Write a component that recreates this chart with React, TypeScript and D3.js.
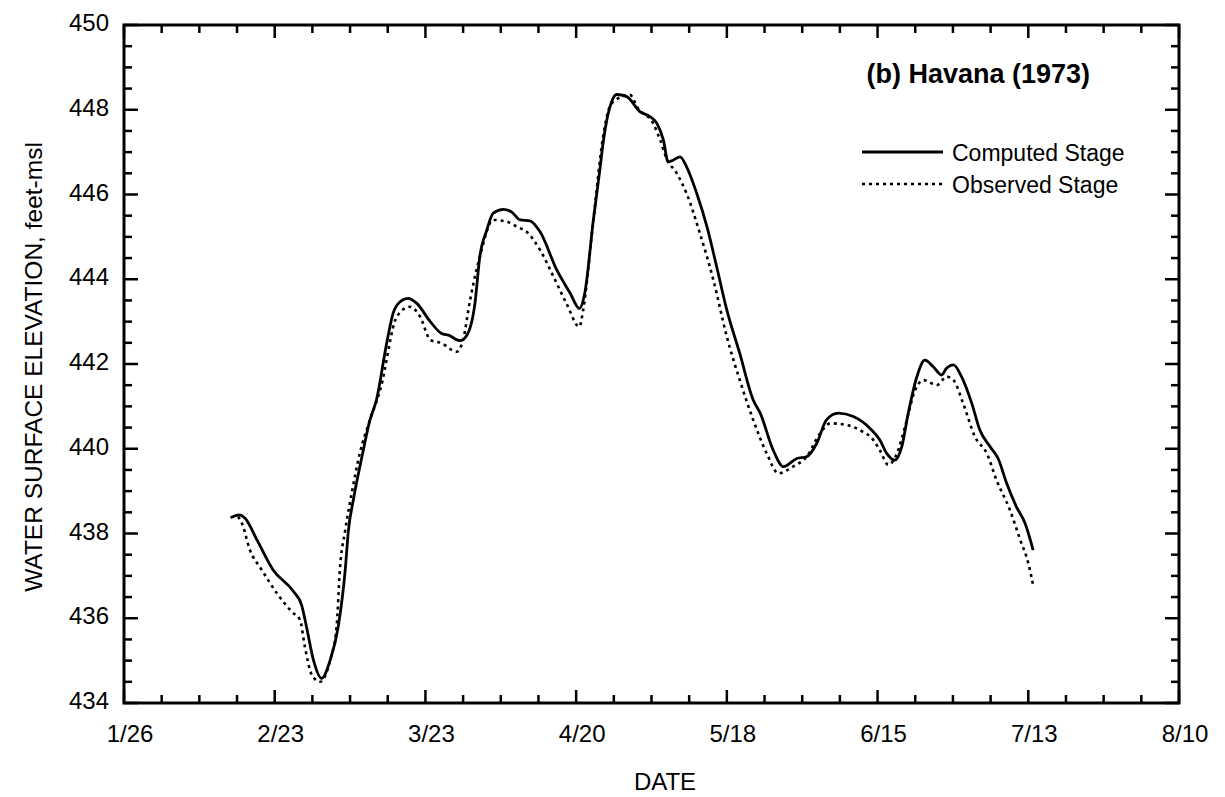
import * as d3 from 'd3';

// days counted from 1/26/1973
const dateLabels = ['1/26', '2/23', '3/23', '4/20', '5/18', '6/15', '7/13', '8/10'];
const stageTicks = [434, 436, 438, 440, 442, 444, 446, 448, 450];

const computedDay = [
  19.8, 21.4, 22.5, 24.7, 27.7, 31.5, 33.0, 33.9, 35.2, 36.7, 38.3, 39.8, 41.1, 41.7, 42.6, 44.2,
  45.7, 46.9, 48.8, 50.0, 51.3, 52.8, 54.4, 56.9, 59.0, 60.3, 62.4, 63.7, 65.2, 66.1, 67.4, 68.6,
  70.5, 72.0, 73.6, 75.4, 77.3, 80.4, 82.9, 84.6, 85.6, 87.2, 88.4, 89.0, 89.7, 90.6, 91.5, 93.4,
  95.9, 97.7, 99.0, 100.2, 101.1, 102.0, 103.3, 104.5, 106.4, 108.3, 110.1, 112.0, 114.4, 116.9,
  118.2, 120.6, 122.5, 125.0, 126.8, 128.7, 130.5, 132.7, 135.5, 138.6, 140.4, 141.7, 143.2, 144.5,
  145.7, 147.3, 148.8, 150.3, 151.9, 152.8, 154.1, 155.6, 157.5, 159.0, 160.9, 162.4, 164.0, 165.8,
  167.4, 168.9,
];
const computedStage = [
  438.37, 438.44, 438.36, 437.85, 437.14, 436.63, 436.31, 435.8, 435.01, 434.58, 435.01, 435.8,
  437.14, 438.08, 438.79, 439.81, 440.68, 441.15, 442.49, 443.2, 443.47, 443.55, 443.43, 443.0,
  442.72, 442.68, 442.55, 442.68, 443.43, 444.53, 445.16, 445.56, 445.65, 445.59, 445.4, 445.38,
  445.12, 444.22, 443.67, 443.31, 443.67, 445.4, 446.58, 447.21, 447.76, 448.19, 448.36, 448.31,
  447.95, 447.84, 447.68, 447.29, 446.77, 446.81, 446.89, 446.66, 446.03, 445.24, 444.3, 443.27,
  442.25, 441.15, 440.84, 439.97, 439.58, 439.77, 439.81, 440.13, 440.68, 440.84, 440.76, 440.48,
  440.21, 439.89, 439.73, 440.05, 440.84, 441.7, 442.09, 441.94, 441.74, 441.9, 441.98, 441.7,
  441.07, 440.44, 440.05, 439.77, 439.18, 438.63, 438.24, 437.61,
];

const observedDay = [
  21.2, 21.9, 23.4, 25.6, 28.4, 31.2, 32.7, 33.6, 34.9, 36.4, 38.3, 39.5, 40.1, 41.1, 42.3, 43.8,
  45.7, 47.6, 50.7, 53.1, 55.0, 56.9, 59.0, 61.8, 63.0, 64.3, 66.1, 68.6, 71.1, 73.0, 74.8, 77.3,
  79.8, 82.2, 84.6, 85.3, 87.2, 89.0, 90.0, 90.9, 94.0, 95.5, 98.3, 99.6, 100.8, 102.7, 104.5,
  107.0, 109.5, 112.0, 114.4, 116.9, 119.4, 121.6, 124.3, 126.8, 129.3, 131.2, 134.3, 136.7, 139.2,
  140.4, 142.0, 143.6, 145.1, 147.0, 148.5, 151.0, 152.8, 154.1, 155.9, 158.1, 160.3, 162.1, 164.6,
  166.5, 168.0, 168.9,
];
const observedStage = [
  438.4, 438.24, 437.61, 437.14, 436.59, 436.15, 435.96, 435.33, 434.66, 434.5, 435.01, 435.8,
  437.14, 438.08, 438.95, 439.89, 440.68, 441.39, 443.12, 443.35, 443.12, 442.57, 442.49, 442.29,
  442.57, 443.51, 444.53, 445.4, 445.36, 445.24, 445.12, 444.69, 444.06, 443.43, 442.88, 443.27,
  445.4, 447.36, 447.99, 448.19, 448.35, 448.03, 447.68, 447.29, 446.85, 446.5, 446.03, 445.08,
  443.98, 442.64, 441.62, 440.68, 439.89, 439.42, 439.58, 439.81, 440.36, 440.6, 440.56, 440.44,
  440.21, 439.97, 439.62, 439.89, 440.52, 441.39, 441.62, 441.5, 441.7, 441.62, 441.07, 440.28,
  439.89, 439.26, 438.55, 437.85, 437.3, 436.78,
];

const W = 1225;
const H = 797;
const left = 124;
const right = 1179;
const top = 25;
const bottom = 703;
const font = '"Liberation Sans", Arial, Helvetica, sans-serif';

export default function App() {
  const x = d3.scaleLinear().domain([0, 196]).range([left, right]);
  const y = d3.scaleLinear().domain([434, 450]).range([bottom, top]);

  const line = d3
    .line<[number, number]>()
    .x((d) => x(d[0]))
    .y((d) => y(d[1]))
    .curve(d3.curveMonotoneX);

  const computed = computedDay.map((d, i) => [d, computedStage[i]] as [number, number]);
  const observed = observedDay.map((d, i) => [d, observedStage[i]] as [number, number]);

  const xMinor = d3.range(0, 197, 7);
  const yMinor = d3.range(434, 450.01, 0.5);

  return (
    <svg
      width={W}
      height={H}
      style={{ position: 'absolute', left: 0, top: 0, background: '#fff' }}
      fontFamily={font}
    >
      {/* ticks, all pointing inward */}
      <g stroke="#000" strokeWidth={2.5}>
        {xMinor.map((d) => {
          const len = d % 28 === 0 ? 13 : 8;
          return (
            <g key={'x' + d}>
              <line x1={x(d)} x2={x(d)} y1={bottom} y2={bottom - len} />
              <line x1={x(d)} x2={x(d)} y1={top} y2={top + len} />
            </g>
          );
        })}
        {yMinor.map((v) => {
          const len = v % 2 === 0 ? 14 : 8;
          return (
            <g key={'y' + v}>
              <line x1={left} x2={left + len} y1={y(v)} y2={y(v)} />
              <line x1={right} x2={right - len} y1={y(v)} y2={y(v)} />
            </g>
          );
        })}
      </g>
      <rect
        x={left}
        y={top}
        width={right - left}
        height={bottom - top}
        fill="none"
        stroke="#000"
        strokeWidth={3}
      />

      {/* tick labels */}
      <g fontSize={24} fill="#000">
        {dateLabels.map((t, i) => (
          <text key={t} x={x(i * 28) + 6} y={742} textAnchor="middle">
            {t}
          </text>
        ))}
        {stageTicks.map((v) => (
          <text key={v} x={109} y={y(v) + 6} textAnchor="end">
            {v}
          </text>
        ))}
      </g>

      {/* axis titles */}
      <text x={665} y={790} textAnchor="middle" fontSize={24}>
        DATE
      </text>
      <text
        transform={`translate(42,367) rotate(-90)`}
        textAnchor="middle"
        fontSize={24.5}
      >
        WATER SURFACE ELEVATION, feet-msl
      </text>

      {/* series */}
      <path d={line(computed) ?? ''} fill="none" stroke="#000" strokeWidth={2.8} />
      <path
        d={line(observed) ?? ''}
        fill="none"
        stroke="#000"
        strokeWidth={2.6}
        strokeDasharray="3,4"
      />

      {/* panel title and legend */}
      <text x={1090} y={83} textAnchor="end" fontSize={27} fontWeight="bold">
        (b) Havana (1973)
      </text>
      <line x1={862} x2={943} y1={152} y2={152} stroke="#000" strokeWidth={2.8} />
      <text x={952} y={161} fontSize={23}>
        Computed Stage
      </text>
      <line
        x1={862}
        x2={943}
        y1={184}
        y2={184}
        stroke="#000"
        strokeWidth={2.6}
        strokeDasharray="3,4"
      />
      <text x={952} y={193} fontSize={23}>
        Observed Stage
      </text>
    </svg>
  );
}
